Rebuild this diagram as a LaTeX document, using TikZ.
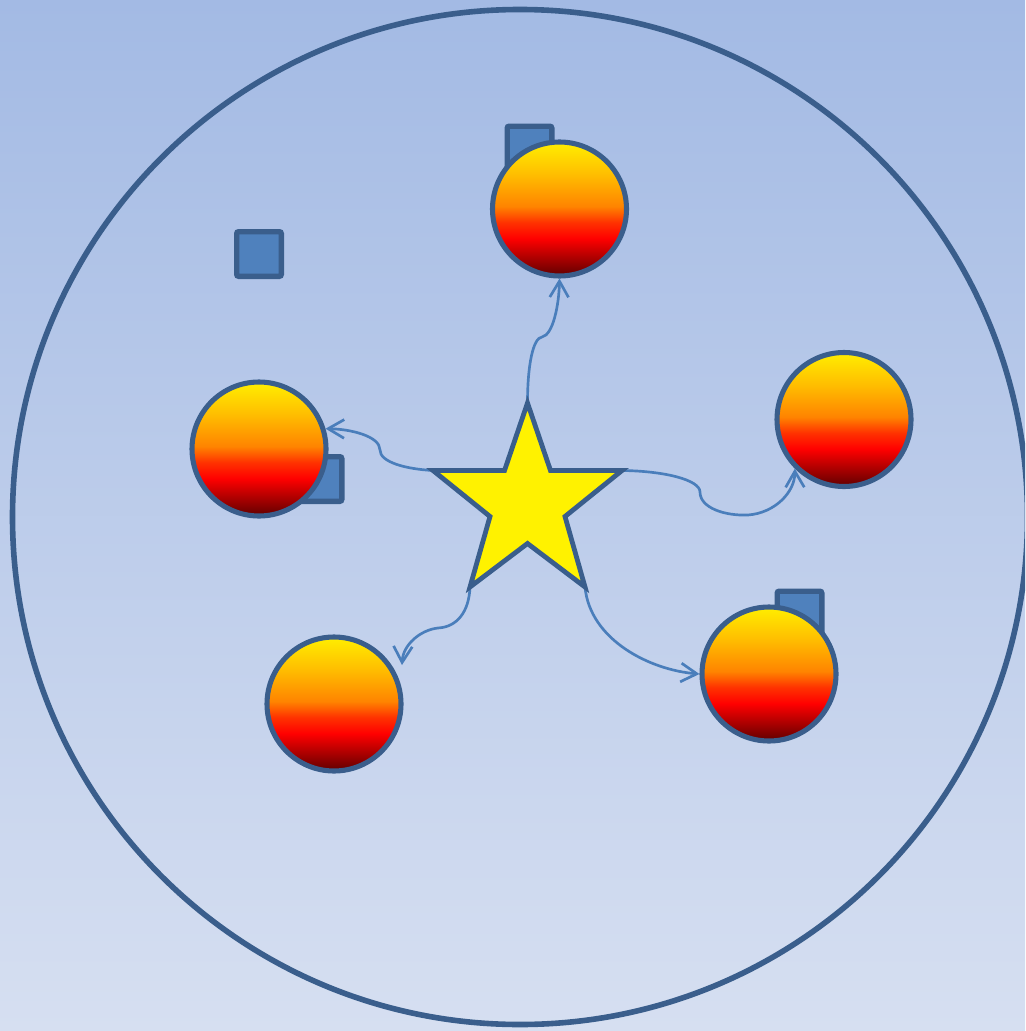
\documentclass[tikz,border=0pt]{standalone}
\usetikzlibrary{arrows.meta}
\definecolor{bgtop}{RGB}{163,186,228}
\definecolor{bgbot}{RGB}{214,223,241}
\definecolor{edge}{RGB}{58,94,140}
\definecolor{sqfill}{RGB}{79,129,189}
\definecolor{conn}{RGB}{74,126,187}
\definecolor{ballY}{RGB}{255,238,0}
\definecolor{ballOY}{RGB}{255,190,0}
\definecolor{ballO}{RGB}{255,132,0}
\definecolor{ballRO}{RGB}{255,50,0}
\definecolor{ballR}{RGB}{255,0,0}
\definecolor{ballD}{RGB}{95,0,0}
\pgfdeclareverticalshading{ball}{100bp}{color(0bp)=(ballD); color(25bp)=(ballD); color(39bp)=(ballR); color(45bp)=(ballRO); color(51bp)=(ballO); color(63bp)=(ballOY); color(75bp)=(ballY); color(100bp)=(ballY)}
\begin{document}
\begin{tikzpicture}[x=0.75pt,y=-0.75pt,
  ballnode/.style={circle, draw=edge, line width=3.8pt, shade, shading=ball, minimum size=100.5pt, inner sep=0pt},
  sqnode/.style={rectangle, draw=edge, fill=sqfill, line width=4pt, minimum size=33.5pt, rounded corners=1.5pt, inner sep=0pt},
  link/.style={draw=conn, line width=2pt, -{Straight Barb[length=12pt,width=14pt,line width=2pt]}}]
\useasboundingbox (0,0) rectangle (1025,1031);
\clip (0,0) rectangle (1025,1031);
\shade[top color=bgtop, bottom color=bgbot] (0,0) rectangle (1025,1031);
\draw[edge, line width=4.2pt] (520,517) circle[radius=507.5];
% squares
\node[sqnode] (q1) at (529.5,148.5) {};
\node[sqnode] (q2) at (259,254) {};
\node[sqnode] (q3) at (319.5,479) {};
\node[sqnode] (q4) at (799.5,613.5) {};
% spheres
\node[ballnode] (s1) at (559.5,209) {};
\node[ballnode] (s2) at (259,449) {};
\node[ballnode] (s3) at (844,419.5) {};
\node[ballnode] (s4) at (334,704) {};
\node[ballnode] (s5) at (769,674) {};
% star vertices
\coordinate (t1) at (527.5,403);
\coordinate (i1) at (550.5,470.5);
\coordinate (t2) at (622,470.5);
\coordinate (i2) at (565,516.5);
\coordinate (t3) at (585,587);
\coordinate (i3) at (527.5,543.5);
\coordinate (t4) at (470,587);
\coordinate (i4) at (490,516.5);
\coordinate (t5) at (433,470.5);
\coordinate (i5) at (504.5,470.5);
% connectors
\coordinate (w1) at (542,337);
\coordinate (w2) at (380,450);
\coordinate (w3a) at (700,492);
\coordinate (w3b) at (748,515);
\coordinate (w4) at (438,628);
\coordinate (e4) at (402,665);
\draw[link] (t1) .. controls (527.5,365) and (533,338) .. (w1) .. controls (553,335) and (559,305) .. (s1.south);
\draw[link] (t5) .. controls (405,469) and (380,462) .. (w2) .. controls (380,436) and (350,429) .. (s2.17);
\draw[link] (t2) .. controls (665,471) and (700,480) .. (w3a) .. controls (700,508) and (725,516) .. (w3b) .. controls (775,513) and (795,492) .. (s3.225);
\draw[link] (t4) .. controls (469,612) and (457,627) .. (w4) .. controls (420,630) and (403,645) .. (e4);
\draw[link] (t3) .. controls (590,640) and (650,670) .. (s5.west);
\draw[edge, line width=3.6pt, fill=yellow, line join=miter] (t1) -- (i1) -- (t2) -- (i2) -- (t3) -- (i3) -- (t4) -- (i4) -- (t5) -- (i5) -- cycle;
\end{tikzpicture}
\end{document}
